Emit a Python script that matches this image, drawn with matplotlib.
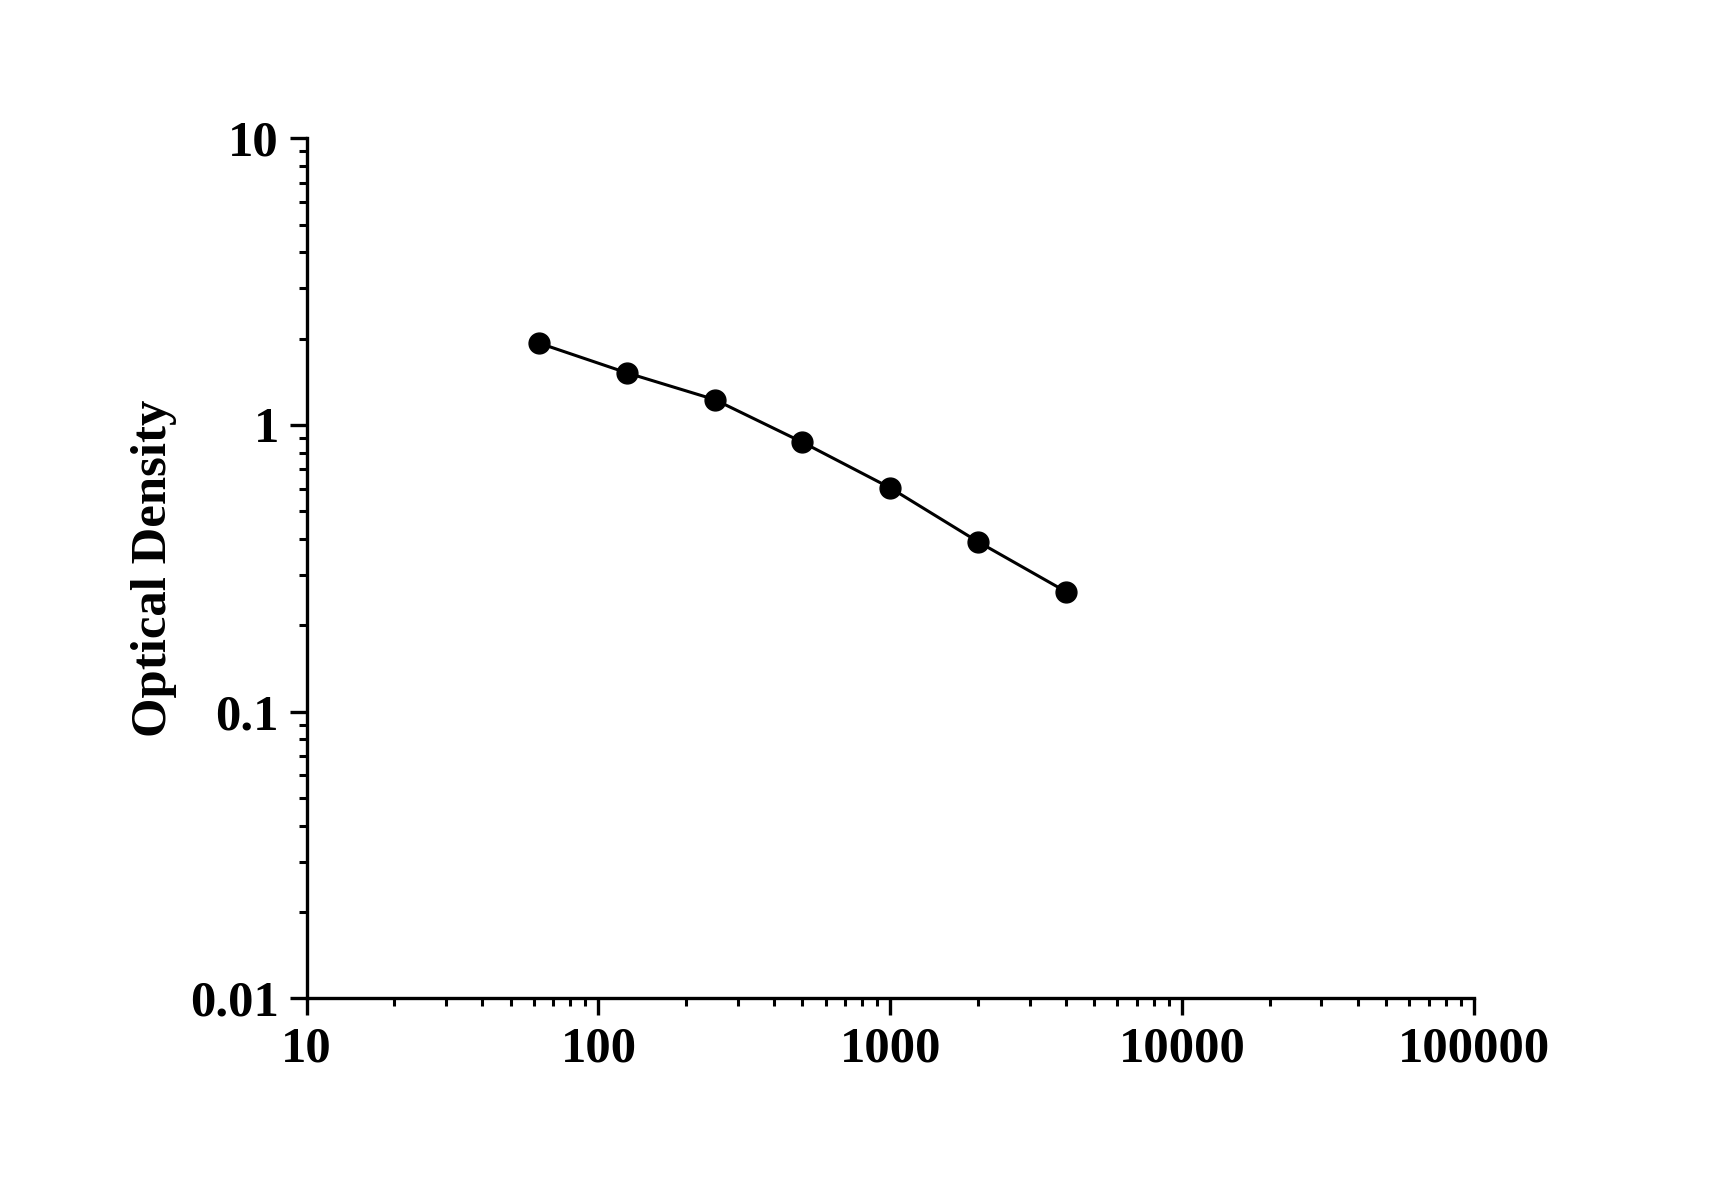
import matplotlib
matplotlib.use("Agg")
import matplotlib.pyplot as plt
from matplotlib.font_manager import FontProperties
from matplotlib.ticker import LogLocator, FixedLocator, FixedFormatter, NullFormatter

# standard curve readings
concentration = [62.5, 125, 250, 500, 1000, 2000, 4000]
optical_density = [1.93, 1.52, 1.226, 0.870, 0.603, 0.391, 0.262]

x_ticks = [10, 100, 1000, 10000, 100000]
x_labels = ["10", "100", "1000", "10000", "100000"]
y_ticks = [0.01, 0.1, 1, 10]
y_labels = ["0.01", "0.1", "1", "10"]

plt.rcParams["font.family"] = "Liberation Serif"
plt.rcParams["font.weight"] = "bold"
bold = FontProperties(family="Liberation Serif", weight="bold", size=36.5)

fig = plt.figure(figsize=(17.12, 11.96), dpi=100)
ax = fig.add_axes([0.1791, 0.1653, 0.8610 - 0.1791, 0.8844 - 0.1653])

ax.plot(concentration, optical_density, color="black", lw=2.2,
        marker="o", markersize=15, clip_on=False)

ax.set_xscale("log")
ax.set_yscale("log")
ax.set_xlim(10, 100000)
ax.set_ylim(0.01, 10)

ax.xaxis.set_major_locator(FixedLocator(x_ticks))
ax.xaxis.set_major_formatter(FixedFormatter(x_labels))
ax.yaxis.set_major_locator(FixedLocator(y_ticks))
ax.yaxis.set_major_formatter(FixedFormatter(y_labels))
ax.xaxis.set_minor_locator(LogLocator(base=10, subs=range(2, 10), numticks=20))
ax.yaxis.set_minor_locator(LogLocator(base=10, subs=range(2, 10), numticks=20))
ax.xaxis.set_minor_formatter(NullFormatter())
ax.yaxis.set_minor_formatter(NullFormatter())

for side in ["top", "right"]:
    ax.spines[side].set_visible(False)
for side in ["left", "bottom"]:
    ax.spines[side].set_linewidth(2.4)

ax.tick_params(which="major", direction="out", length=12, width=2.4, pad=8)
ax.tick_params(which="minor", direction="out", length=6, width=2.2)
for lbl in ax.get_xticklabels() + ax.get_yticklabels():
    lbl.set_fontproperties(bold)

ax.set_ylabel("Optical Density", fontproperties=bold, labelpad=9)

fig.savefig("out.png", dpi=100, facecolor="white")
